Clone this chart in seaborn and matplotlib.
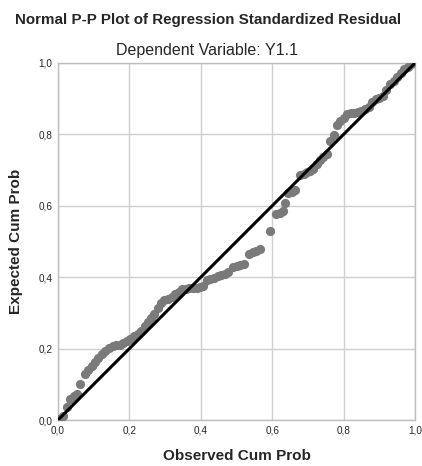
import numpy as np
import pandas as pd
import matplotlib
matplotlib.use("Agg")
import matplotlib.pyplot as plt
import seaborn as sns

# observed vs expected cumulative probabilities
observed = [
    0.003, 0.014, 0.025, 0.034, 0.045, 0.054, 0.063, 0.076, 0.085, 0.094,
    0.103, 0.113, 0.123, 0.133, 0.143, 0.153, 0.163, 0.173, 0.183, 0.193,
    0.203, 0.213, 0.223, 0.233, 0.243, 0.252, 0.261, 0.270, 0.279, 0.288,
    0.298, 0.308, 0.318, 0.328, 0.338, 0.348, 0.358, 0.368, 0.378, 0.388,
    0.398, 0.406, 0.417, 0.427, 0.437, 0.447, 0.457, 0.467, 0.477, 0.490,
    0.500, 0.510, 0.520, 0.535, 0.545, 0.555, 0.566, 0.595, 0.612, 0.621,
    0.629, 0.636, 0.645, 0.655, 0.664, 0.678, 0.688, 0.697, 0.706, 0.715,
    0.725, 0.734, 0.743, 0.753, 0.762, 0.772, 0.781, 0.790, 0.800, 0.810,
    0.820, 0.830, 0.840, 0.850, 0.860, 0.870, 0.880, 0.890, 0.900, 0.910,
    0.920, 0.930, 0.940, 0.950, 0.960, 0.970, 0.980, 0.990,
]
expected = [
    0.004, 0.010, 0.036, 0.060, 0.068, 0.074, 0.100, 0.128, 0.140, 0.150,
    0.162, 0.175, 0.184, 0.193, 0.202, 0.207, 0.209, 0.211, 0.216, 0.222,
    0.228, 0.235, 0.240, 0.248, 0.262, 0.275, 0.285, 0.298, 0.313, 0.327,
    0.335, 0.340, 0.345, 0.352, 0.358, 0.366, 0.368, 0.369, 0.370, 0.371,
    0.372, 0.374, 0.393, 0.396, 0.399, 0.402, 0.406, 0.410, 0.415, 0.428,
    0.431, 0.433, 0.436, 0.466, 0.470, 0.474, 0.478, 0.530, 0.576, 0.580,
    0.585, 0.608, 0.636, 0.640, 0.645, 0.686, 0.690, 0.694, 0.698, 0.702,
    0.716, 0.728, 0.738, 0.746, 0.782, 0.798, 0.825, 0.838, 0.845, 0.856,
    0.860, 0.861, 0.862, 0.866, 0.870, 0.878, 0.892, 0.898, 0.902, 0.908,
    0.924, 0.940, 0.950, 0.962, 0.972, 0.982, 0.990, 0.997,
]
ref_line = [0.0, 1.0]
ticks = [0.0, 0.2, 0.4, 0.6, 0.8, 1.0]
tick_labels = ["0,0", "0,2", "0,4", "0,6", "0,8", "1,0"]

df = pd.DataFrame({"obs": observed, "exp": expected})

sns.set_style("white")
plt.rcParams["font.family"] = ["Liberation Sans", "DejaVu Sans"]

fig = plt.figure(figsize=(4.22, 4.66), dpi=100)
ax = fig.add_axes([58 / 422, 1 - 420 / 466, 357 / 422, 357 / 466])

sns.scatterplot(data=df, x="obs", y="exp", ax=ax, color="#7a7a7a",
                s=44, linewidth=0, zorder=3)
sns.lineplot(x=ref_line, y=ref_line, ax=ax, color="black", linewidth=2.2,
             zorder=4)

ax.set_xlim(0, 1)
ax.set_ylim(0, 1)
ax.set_xticks(ticks)
ax.set_yticks(ticks)
ax.set_xticklabels(tick_labels, fontsize=7.2)
ax.set_yticklabels(tick_labels, fontsize=7.2)
ax.grid(True, color="#cfcfcf", linewidth=1)
for s in ax.spines.values():
    s.set_color("#bdbdbd")
    s.set_linewidth(1)
ax.tick_params(axis="y", length=3, width=0.8, color="#888888", pad=1)
ax.tick_params(axis="x", length=0, pad=4)

ax.set_xlabel("Observed Cum Prob", fontsize=11, fontweight="bold",
              labelpad=10)
ax.set_ylabel("Expected Cum Prob", fontsize=11, fontweight="bold",
              labelpad=11)

fig.text(0.493, 1 - 20 / 466, "Normal P-P Plot of Regression Standardized Residual",
         ha="center", va="center", fontsize=10.9, fontweight="bold")
fig.text(0.49, 1 - 50 / 466, "Dependent Variable: Y1.1",
         ha="center", va="center", fontsize=11.5)

fig.savefig("out.png", dpi=100)
